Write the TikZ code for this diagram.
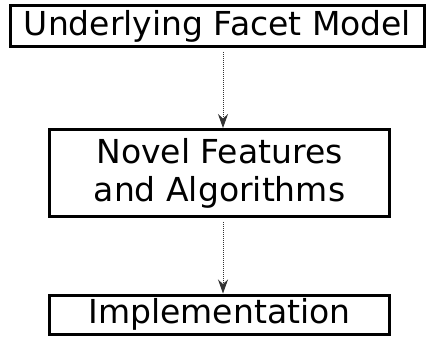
\documentclass[tikz,border=0pt]{standalone}
\usepackage{fontspec}
\setmainfont{DejaVu Sans}
\usetikzlibrary{arrows.meta}
\tikzstyle{flow}=[-{Stealth[length=14pt,width=10pt]},line width=1pt,dash pattern=on 1pt off 1pt,draw=black!80,shorten <=4pt]
\tikzstyle{stage}=[rectangle,draw,line width=3pt,inner sep=0pt,font=\fontsize{33}{38}\selectfont,align=center]
\tikzstyle{wide}=[stage,minimum width=414pt,minimum height=41pt]
\tikzstyle{mid}=[stage,minimum width=340pt,minimum height=87pt]
\tikzstyle{low}=[stage,minimum width=340pt,minimum height=39pt]

\begin{document}
\begin{tikzpicture}[x=1pt,y=-1pt]
				\useasboundingbox (0,0) rectangle (428,338);
				
				%The top stage
				\draw (217.5,26) node[wide] (model) {Underlying Facet Model};
				
				%The middle stage
				\draw (219.5,173) node[mid] (features) {Novel Features\\and Algorithms};
				
				%The bottom stage
				\draw (219.5,314.5) node[low] (impl) {Implementation};
				
				%The arrows between stages
				\coordinate (ax) at (223,0);
				\draw[flow] (model.south -| ax) -- (features.north -| ax);
				\draw[flow] (features.south -| ax) -- (impl.north -| ax);
			\end{tikzpicture}
\end{document}
